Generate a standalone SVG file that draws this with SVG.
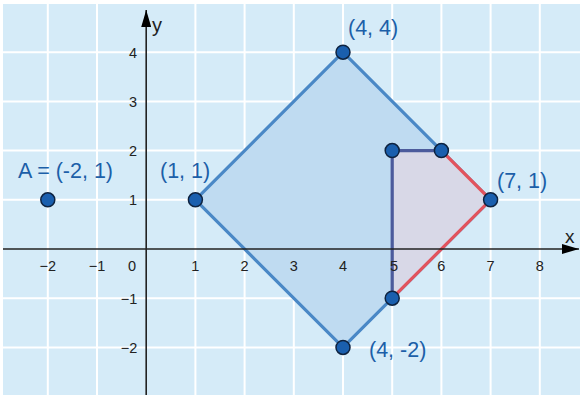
<svg xmlns="http://www.w3.org/2000/svg" width="580" height="395" viewBox="0 0 580 395">
<style>
.grid{stroke:#ffffff;stroke-width:2;fill:none}
.axis{stroke:#222;stroke-width:1.6;fill:none}
.tick{font-family:"Liberation Sans",Arial,sans-serif;font-size:14.5px;fill:#222}
.lbl{font-family:"Liberation Sans",Arial,sans-serif;font-size:21.5px;fill:#1c5fa8}
.pt{fill:#1a5fae;stroke:#0e2340;stroke-width:1.5}
</style>
<defs>
<marker id="arr" viewBox="0 0 17 10" refX="17" refY="5" markerWidth="17" markerHeight="10" markerUnits="userSpaceOnUse" orient="auto">
<path d="M0,0 L17,5 L0,10 Z" fill="#000"/>
</marker>
</defs>
<rect x="0" y="0" width="580" height="395" fill="#ffffff"/>
<rect x="3" y="4" width="577" height="391" fill="#d5ebf8"/>
<g id="grid" class="grid">
<path d="M47.8,4V395M97,4V395M195.4,4V395M244.6,4V395M293.8,4V395M343,4V395M392.2,4V395M441.4,4V395M490.6,4V395M539.8,4V395"/>
<path d="M3,52.2H580M3,101.4H580M3,150.6H580M3,199.8H580M3,298.2H580M3,347.4H580"/>
</g>
<g id="square">
<polygon points="195.4,199.8 343,52.2 490.6,199.8 343,347.4" fill="#bfdbf1" stroke="#4a88c6" stroke-width="3.2" stroke-linejoin="round"/>
</g>
<g id="pentagon">
<polygon points="392.2,150.6 441.4,150.6 490.6,199.8 392.2,298.2" fill="#d8d8e7"/>
<polyline points="441.4,150.6 490.6,199.8 392.2,298.2" fill="none" stroke="#e2535d" stroke-width="3.2"/>
<polyline points="392.2,298.2 392.2,150.6 441.4,150.6" fill="none" stroke="#4c5b9c" stroke-width="3.2"/>
</g>
<g id="axes">
<line class="axis" x1="3" y1="249" x2="579" y2="249" marker-end="url(#arr)"/>
<line class="axis" x1="146.2" y1="395" x2="146.2" y2="10" marker-end="url(#arr)"/>
<text class="tick" x="565" y="243" style="font-size:19px">x</text>
<text class="tick" x="152" y="32" style="font-size:20px">y</text>
</g>
<g id="ticks" class="tick" text-anchor="middle">
<text x="47.8" y="271">−2</text>
<text x="97" y="271">−1</text>
<text x="132" y="271">0</text>
<text x="195.4" y="271">1</text>
<text x="244.6" y="271">2</text>
<text x="293.8" y="271">3</text>
<text x="343" y="271">4</text>
<text x="394" y="271">5</text>
<text x="441.4" y="271">6</text>
<text x="490.6" y="271">7</text>
<text x="539.8" y="271">8</text>
<text x="133" y="57.5">4</text>
<text x="133" y="106.5">3</text>
<text x="133" y="155.5">2</text>
<text x="133" y="205">1</text>
<text x="129" y="303.5">−1</text>
<text x="129" y="352.5">−2</text>
</g>
<g id="pA"><circle class="pt" cx="47.8" cy="199.8" r="7"/><text class="lbl" x="18" y="178">A = (-2, 1)</text></g>
<g id="p11"><circle class="pt" cx="195.4" cy="199.8" r="7"/><text class="lbl" x="160" y="178">(1, 1)</text></g>
<g id="p44"><circle class="pt" cx="343" cy="52.2" r="7"/><text class="lbl" x="348" y="35">(4, 4)</text></g>
<g id="p71"><circle class="pt" cx="490.6" cy="199.8" r="7"/><text class="lbl" x="497" y="188">(7, 1)</text></g>
<g id="p4m2"><circle class="pt" cx="343" cy="347.4" r="7"/><text class="lbl" x="369" y="357">(4, -2)</text></g>
<g id="p52"><circle class="pt" cx="392.2" cy="150.6" r="7"/></g>
<g id="p62"><circle class="pt" cx="441.4" cy="150.6" r="7"/></g>
<g id="p5m1"><circle class="pt" cx="392.2" cy="298.2" r="7"/></g>
</svg>
